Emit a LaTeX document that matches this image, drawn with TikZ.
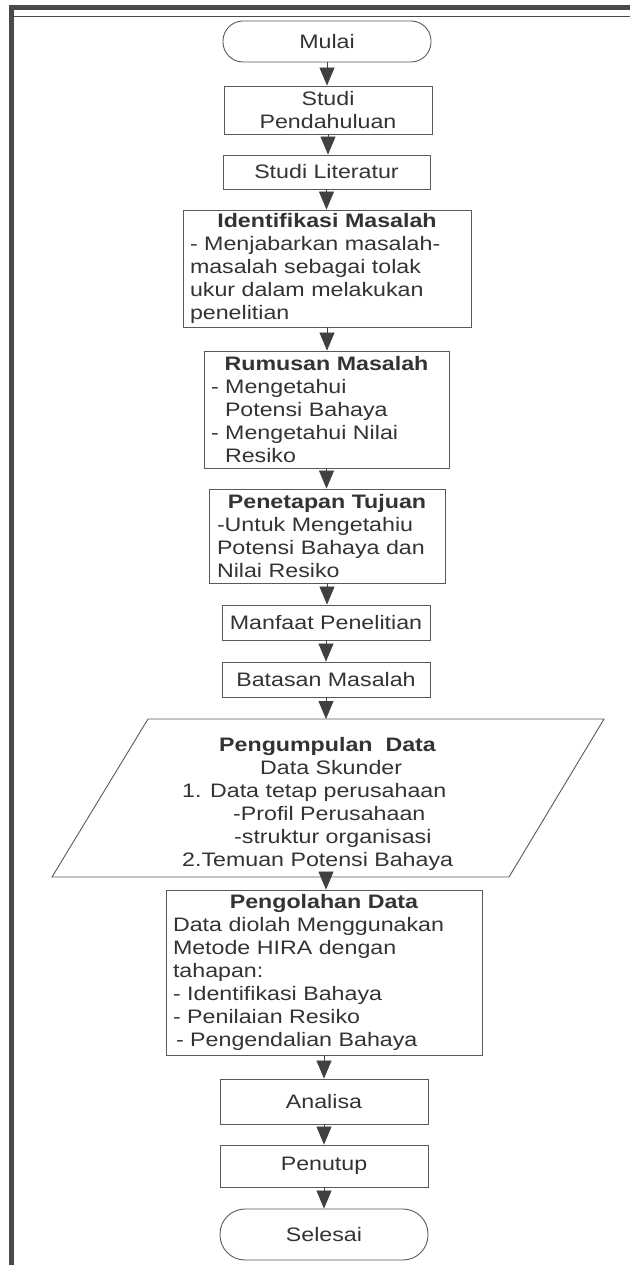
\documentclass[tikz,border=0pt]{standalone}
\usepackage{fontspec}
\setmainfont[FakeStretch=1.19]{Liberation Sans}
\usetikzlibrary{arrows.meta}
\definecolor{framec}{HTML}{4A4A4A}
\definecolor{edgec}{HTML}{5A5A5A}
\definecolor{txtc}{HTML}{333333}
\definecolor{arrc}{HTML}{404040}
\begin{document}
\begin{tikzpicture}[x=1pt,y=-1pt,
  every node/.style={font=\fontsize{19.5pt}{23pt}\selectfont, text=txtc},
  box/.style={draw=edgec, line width=0.9pt, fill=white, inner sep=0pt},
  proc/.style={box, rectangle, align=center},
  term/.style={box, rounded corners=20pt, align=center},
  listbox/.style={box, rectangle, align=left},
  flow/.style={draw=arrc, line width=0.8pt, -{Triangle[length=18pt,width=15pt]}},
  ptext/.style={inner sep=0pt, align=left}
]
\useasboundingbox (0,0) rectangle (630,1265);
% frame
\fill[framec] (9,5) rectangle (14,1265);
\fill[framec] (9,5) rectangle (630,10);
\fill[framec] (14,16) rectangle (630,17.5);

% nodes
\node[term, minimum width=208pt, minimum height=41pt] (mulai) at (327,41.5) {Mulai};
\node[proc, minimum width=208pt, minimum height=48pt] (sp) at (328,110) {Studi\\Pendahuluan};
\node[proc, minimum width=207pt, minimum height=34pt] (sl) at (326.5,172) {Studi Literatur};
\node[listbox, minimum width=288pt, minimum height=117pt, text width=274pt] (idm) at (327,268.5)
 {\makebox[\linewidth]{\textbf{Identifikasi Masalah}}\\
  - Menjabarkan masalah-\\
  masalah sebagai tolak\\
  ukur dalam melakukan\\
  penelitian};
\node[listbox, minimum width=245pt, minimum height=117pt, text width=231pt] (rm) at (326.5,409.5)
 {\makebox[\linewidth]{\textbf{Rumusan Masalah}}\\
  - Mengetahui\\
  \hspace*{14pt}Potensi Bahaya\\
  - Mengetahui Nilai\\
  \hspace*{14pt}Resiko};
\node[listbox, minimum width=236pt, minimum height=94pt, text width=220pt] (ptj) at (327,536)
 {\makebox[\linewidth]{\textbf{Penetapan Tujuan}}\\
  -Untuk Mengetahiu\\
  Potensi Bahaya dan\\
  Nilai Resiko};
\node[proc, minimum width=208pt, minimum height=35pt] (mp) at (326,622.5) {Manfaat Penelitian};
\node[proc, minimum width=208pt, minimum height=35pt] (bm) at (326,679.5) {Batasan Masalah};

% parallelogram (data input)
\coordinate (pa) at (148,719);
\coordinate (pb) at (604,719);
\coordinate (pc) at (509,877);
\coordinate (pd0) at (52,877);
\coordinate (ptop) at (326,719);
\coordinate (pbot) at (326,877);
\draw[draw=edgec, line width=0.9pt, fill=white] (pa) -- (pb) -- (pc) -- (pd0) -- cycle;
\node[ptext, anchor=west] (pdata) at (182,804)
 {\hspace*{37pt}\textbf{Pengumpulan\ \ Data}\\
  \hspace*{78pt}Data Skunder\\
  1. Data tetap perusahaan\\
  \hspace*{51pt}-Profil Perusahaan\\
  \hspace*{52pt}-struktur organisasi\\
  2.Temuan Potensi Bahaya};

\node[listbox, minimum width=316pt, minimum height=165pt, text width=302pt] (pod) at (324,972.5)
 {\makebox[\linewidth]{\textbf{Pengolahan Data}}\\
  Data diolah Menggunakan\\
  Metode HIRA dengan\\
  tahapan:\\
  - Identifikasi Bahaya\\
  - Penilaian Resiko\\
  \hspace*{3pt}- Pengendalian Bahaya};
\node[proc, minimum width=208pt, minimum height=45pt] (an) at (324,1101.5) {Analisa};
\node[proc, minimum width=208pt, minimum height=42pt] (pn) at (324,1166) {Penutup};
\node[term, minimum width=208pt, minimum height=51pt, rounded corners=25pt] (sel) at (324,1234.5) {Selesai};

% connectors
\draw[flow] (mulai.south) -- (mulai.south |- sp.north);
\draw[flow] (sp.south) -- (sp.south |- sl.north);
\draw[flow] (sl.south) -- (sl.south |- idm.north);
\draw[flow] (idm.south) -- (idm.south |- rm.north);
\draw[flow] (rm.south) -- (rm.south |- ptj.north);
\draw[flow] (ptj.south) -- (ptj.south |- mp.north);
\draw[flow] (mp.south) -- (mp.south |- bm.north);
\draw[flow] (bm.south) -- (bm.south |- ptop);
\draw[flow] (pbot) -- (pbot |- pod.north);
\draw[flow] (pod.south) -- (pod.south |- an.north);
\draw[flow] (an.south) -- (an.south |- pn.north);
\draw[flow] (pn.south) -- (pn.south |- sel.north);
\end{tikzpicture}
\end{document}
